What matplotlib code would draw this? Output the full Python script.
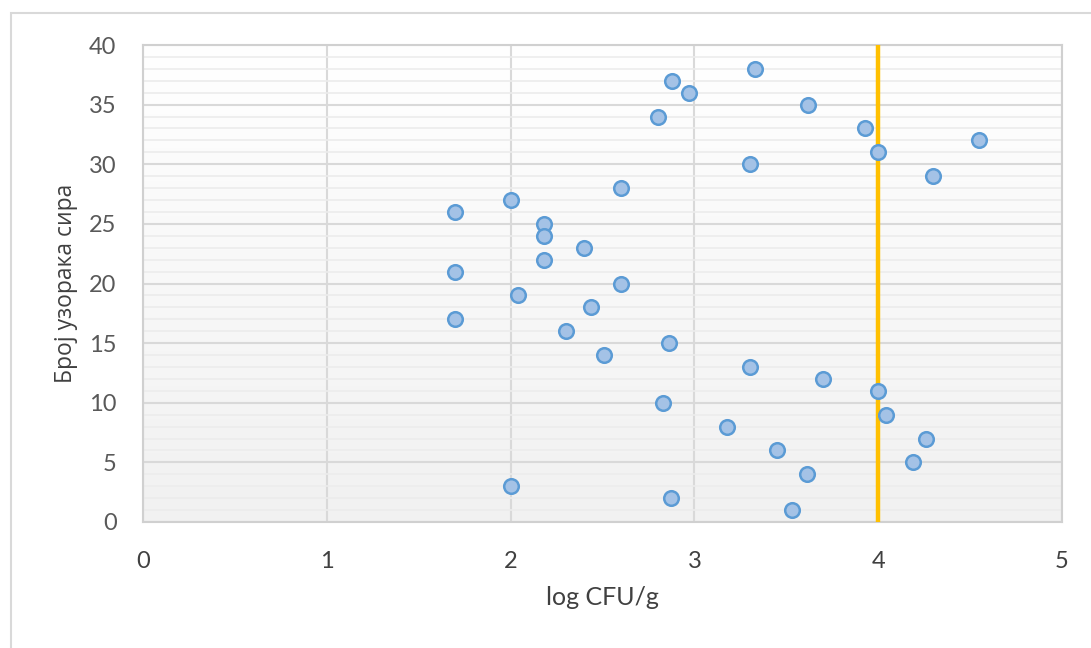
import numpy as np
import matplotlib
matplotlib.use('Agg')
import matplotlib.pyplot as plt
from matplotlib.patches import Rectangle

plt.rcParams['font.family'] = ['Lato', 'Open Sans', 'DejaVu Sans']

# sample number vs log CFU/g
sample_no = [38, 37, 36, 35, 34, 33, 32, 31, 30, 29, 28, 27, 26, 25, 24, 23, 22, 21, 20,
             19, 18, 17, 16, 15, 14, 13, 12, 11, 10, 9, 8, 7, 6, 5, 4, 3, 2, 1]
log_cfu = [3.33, 2.88, 2.97, 3.62, 2.80, 3.93, 4.55, 4.00, 3.30, 4.30, 2.60, 2.00, 1.70,
           2.18, 2.18, 2.40, 2.18, 1.70, 2.60, 2.04, 2.44, 1.70, 2.30, 2.86, 2.51, 3.30,
           3.70, 4.00, 2.83, 4.04, 3.18, 4.26, 3.45, 4.19, 3.61, 2.00, 2.87, 3.53]
limit_x = [4.0, 4.0]
limit_y = [0, 40]

x_ticks = [0, 1, 2, 3, 4, 5]
y_ticks = [0, 5, 10, 15, 20, 25, 30, 35, 40]

fig = plt.figure(figsize=(10.91, 6.48), dpi=100)
fig.patches.append(Rectangle((11 / 1091, -0.1), 1.2, 1 - 13 / 648 + 0.1,
                             transform=fig.transFigure, fill=False,
                             edgecolor='#d9d9d9', linewidth=1.5))

ax = fig.add_axes([143 / 1091, 1 - 522 / 648, (1062 - 143) / 1091, (522 - 45) / 648])

# background gradient, white at top to light grey at bottom
grad = np.linspace(1.0, 0.0, 256).reshape(-1, 1)
ax.imshow(grad, extent=[0, 1, 0, 1], transform=ax.transAxes, aspect='auto',
          cmap=matplotlib.colors.LinearSegmentedColormap.from_list('g', ['#f1f1f1', '#ffffff']),
          zorder=0)

ax.set_xlim(0, 5)
ax.set_ylim(0, 40)
ax.set_xticks(x_ticks)
ax.set_yticks(y_ticks)
ax.set_yticks(range(0, 41), minor=True)
ax.grid(which='minor', axis='y', color='#ececec', linewidth=1.2, zorder=1)
ax.grid(which='major', axis='both', color='#d9d9d9', linewidth=1.5, zorder=1)
ax.set_axisbelow(True)
for s in ax.spines.values():
    s.set_color('#d0d0d0')
    s.set_linewidth(1.5)

ax.tick_params(which='both', length=0)
ax.tick_params(axis='y', labelsize=17, labelcolor='#595959', pad=19)
ax.tick_params(axis='x', labelsize=17, labelcolor='#404040', pad=21)

ax.plot(limit_x, limit_y, color='#ffc000', linewidth=3.2, zorder=3)
ax.scatter(log_cfu, sample_no, s=110, facecolor='#a4c2e6', edgecolor='#5b9bd5',
           linewidth=1.8, zorder=4)

ax.set_xlabel('log CFU/g', fontsize=18, color='#404040', labelpad=10)
ax.set_ylabel('Број узорака сира', fontsize=16.5, color='#404040', family='Open Sans',
              labelpad=8)

fig.savefig('out.png', dpi=100)
